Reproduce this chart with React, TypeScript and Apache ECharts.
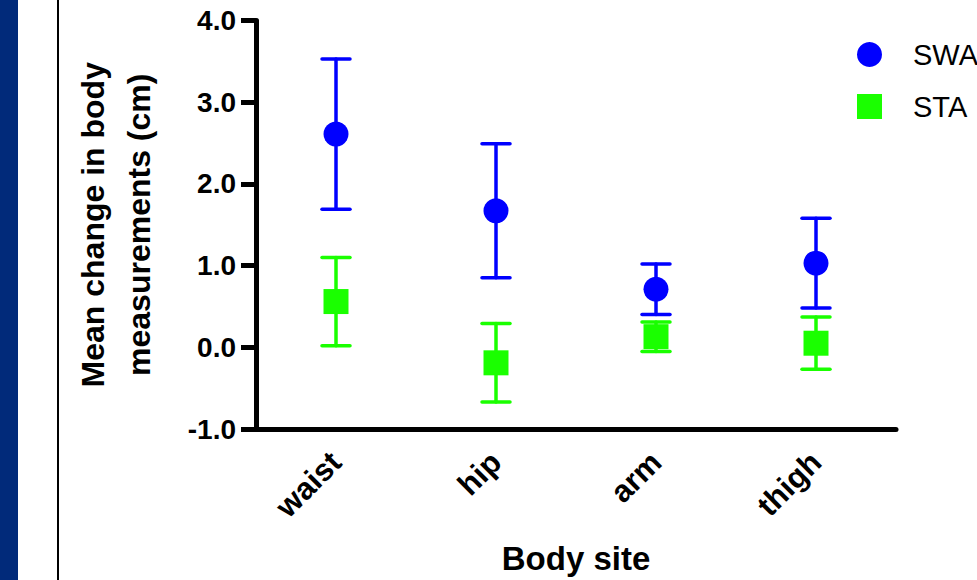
import React, { useEffect, useRef } from "react";
import * as echarts from "echarts";

const categories = ["waist", "hip", "arm", "thigh"];
const swaMean = [2.61, 1.67, 0.71, 1.03];
const swaErr = [0.92, 0.82, 0.31, 0.55];
const staMean = [0.56, -0.19, 0.13, 0.05];
const staErr = [0.54, 0.48, 0.18, 0.32];
const yTicks = [-1, 0, 1, 2, 3, 4];
const legendNames = ["SWA", "STA"];
const yAxisName = "Mean change in body\nmeasurements (cm)";
const xAxisName = "Body site";

const BLUE = "#0000ff";
const GREEN = "#1aff00";
const FONT = "'Liberation Sans', Arial, Helvetica, sans-serif";

function errorSeries(name: string, mean: number[], err: number[], color: string) {
  return {
    name,
    type: "custom",
    z: 2,
    color,
    itemStyle: { color },
    data: mean.map((m, i) => [i, m - err[i], m + err[i]]),
    encode: { x: 0, y: [1, 2] },
    renderItem: (params: any, api: any) => {
      const x = api.value(0);
      const lo = api.coord([x, api.value(1)]);
      const hi = api.coord([x, api.value(2)]);
      const hw = 14;
      const style = { stroke: color, lineWidth: 3.5, lineCap: "round" };
      return {
        type: "group",
        children: [
          { type: "line", shape: { x1: lo[0], y1: lo[1], x2: hi[0], y2: hi[1] }, style },
          { type: "line", shape: { x1: hi[0] - hw, y1: hi[1], x2: hi[0] + hw, y2: hi[1] }, style },
          { type: "line", shape: { x1: lo[0] - hw, y1: lo[1], x2: lo[0] + hw, y2: lo[1] }, style },
        ],
      };
    },
    silent: true,
  };
}

export default function App() {
  const ref = useRef<HTMLDivElement>(null);
  useEffect(() => {
    if (!ref.current) return;
    const chart = echarts.init(ref.current, undefined, { renderer: "svg" });
    chart.setOption({
      animation: false,
      backgroundColor: "#ffffff",
      textStyle: { fontFamily: FONT },
      graphic: [
        { type: "rect", shape: { x: 0, y: 0, width: 18, height: 580 }, style: { fill: "#012a7a" } },
        { type: "rect", shape: { x: 57, y: 0, width: 2, height: 580 }, style: { fill: "#000000" } },
      ],
      legend: {
        orient: "vertical",
        left: 852,
        top: 35,
        itemWidth: 25,
        itemHeight: 25,
        itemGap: 23,
        data: [
          { name: legendNames[0], icon: "circle", itemStyle: { color: BLUE } },
          { name: legendNames[1], icon: "rect", itemStyle: { color: GREEN } },
        ],
        textStyle: {
          fontFamily: FONT,
          fontSize: 29,
          color: "#000",
          padding: [0, 0, 0, 26],
        },
      },
      grid: { left: 256, right: 81, top: 20.5, bottom: 142.5, containLabel: false },
      xAxis: {
        type: "category",
        data: categories,
        boundaryGap: true,
        axisLine: { onZero: false, lineStyle: { color: "#000", width: 5 } },
        axisTick: { alignWithLabel: true, length: 13, lineStyle: { color: "#000", width: 5 } },
        axisLabel: {
          rotate: 45,
          margin: 28,
          color: "#000",
          fontFamily: FONT,
          fontWeight: "bold",
          fontSize: 31,
        },
        name: xAxisName,
        nameLocation: "middle",
        nameGap: 113,
        nameTextStyle: { fontFamily: FONT, fontWeight: "bold", fontSize: 33, color: "#000" },
        splitLine: { show: false },
      },
      yAxis: {
        type: "value",
        min: yTicks[0],
        max: yTicks[yTicks.length - 1],
        interval: 1,
        axisLine: { show: true, lineStyle: { color: "#000", width: 5 } },
        axisTick: { show: true, length: 15, lineStyle: { color: "#000", width: 5 } },
        axisLabel: {
          margin: 20,
          color: "#000",
          fontFamily: FONT,
          fontWeight: "bold",
          fontSize: 28,
          formatter: (v: number) => v.toFixed(1),
        },
        splitLine: { show: false },
        name: yAxisName,
        nameLocation: "middle",
        nameRotate: 90,
        nameGap: 94,
        nameTextStyle: {
          fontFamily: FONT,
          fontWeight: "bold",
          fontSize: 32,
          lineHeight: 46,
          color: "#000",
          align: "center",
        },
      },
      series: [
        errorSeries(legendNames[0], swaMean, swaErr, BLUE),
        errorSeries(legendNames[1], staMean, staErr, GREEN),
        {
          name: legendNames[0],
          type: "scatter",
          symbol: "circle",
          symbolSize: 25,
          z: 3,
          itemStyle: { color: BLUE, opacity: 1 },
          data: swaMean,
        },
        {
          name: legendNames[1],
          type: "scatter",
          symbol: "rect",
          symbolSize: 25,
          z: 3,
          itemStyle: { color: GREEN, opacity: 1 },
          data: staMean,
        },
      ],
    });
    return () => chart.dispose();
  }, []);
  return (
    <div
      ref={ref}
      style={{ position: "absolute", left: 0, top: 0, width: 977, height: 580 }}
    />
  );
}
